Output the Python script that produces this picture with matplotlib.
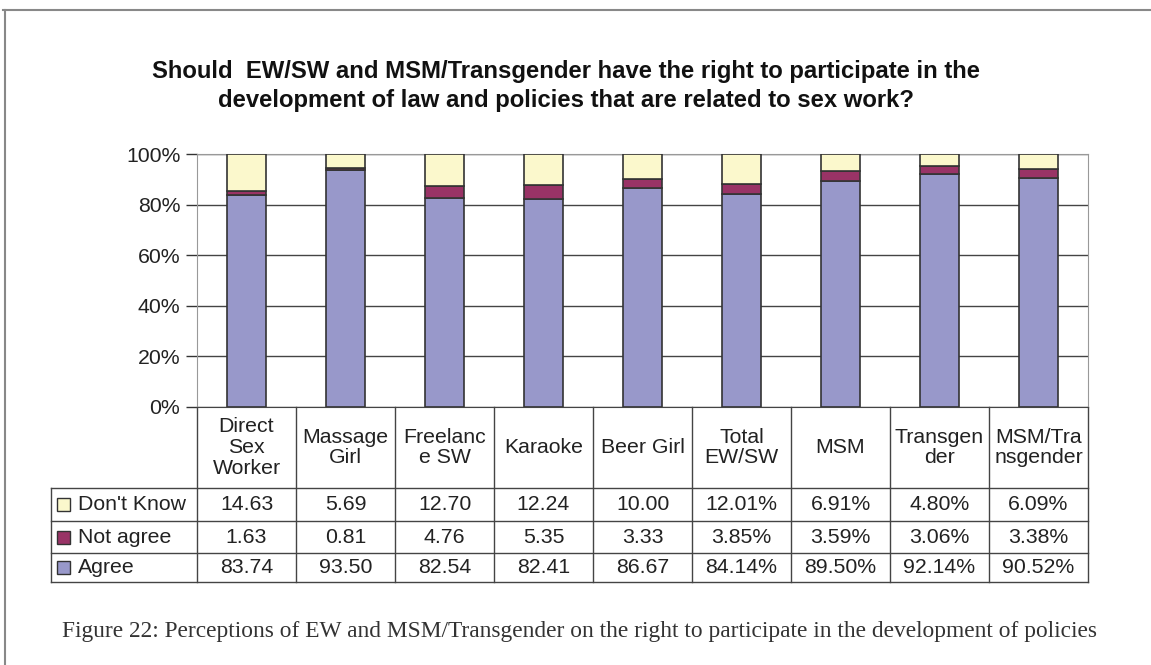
import matplotlib
matplotlib.use('Agg')
import matplotlib.pyplot as plt
from matplotlib.patches import Rectangle
from matplotlib.lines import Line2D
import numpy as np

# data
groups = ['Direct\nSex\nWorker', 'Massage\nGirl', 'Freelanc\ne SW', 'Karaoke', 'Beer Girl',
          'Total\nEW/SW', 'MSM', 'Transgen\nder', 'MSM/Tra\nnsgender']
agree = [83.74, 93.50, 82.54, 82.41, 86.67, 84.14, 89.50, 92.14, 90.52]
not_agree = [1.63, 0.81, 4.76, 5.35, 3.33, 3.85, 3.59, 3.06, 3.38]
dont_know = [14.63, 5.69, 12.70, 12.24, 10.00, 12.01, 6.91, 4.80, 6.09]
pct_sign = [False, False, False, False, False, True, True, True, True]

series_names = ["Don't Know", 'Not agree', 'Agree']
series_vals = [dont_know, not_agree, agree]
series_cols = ['#FBF8CC', '#993366', '#9898CA']

title = ('Should  EW/SW and MSM/Transgender have the right to participate in the\n'
         'development of law and policies that are related to sex work?')
caption = ('Figure 22: Perceptions of EW and MSM/Transgender on the right to participate '
           'in the development of policies')

plt.rcParams['font.family'] = ['Liberation Sans', 'DejaVu Sans']

W, H = 1151, 665
fs = 15.3
tc = '#222222'
fig = plt.figure(figsize=(W / 100, H / 100), dpi=100)
ax = fig.add_axes([197 / W, (H - 407) / H, 891 / W, 253 / H])

x = np.arange(len(groups))
edge = '#333333'
bw = 0.39
ax.bar(x, agree, bw, color=series_cols[2], edgecolor=edge, lw=1.2, zorder=3)
ax.bar(x, not_agree, bw, bottom=agree, color=series_cols[1], edgecolor=edge, lw=1.2, zorder=3)
bot = np.array(agree) + np.array(not_agree)
ax.bar(x, dont_know, bw, bottom=bot, color=series_cols[0], edgecolor=edge, lw=1.2, zorder=3)

ax.set_xlim(-0.5, len(groups) - 0.5)
ax.set_ylim(0, 100)
ax.set_yticks([0, 20, 40, 60, 80, 100])
ax.set_yticklabels(['0%', '20%', '40%', '60%', '80%', '100%'], fontsize=fs, color=tc)
ax.tick_params(axis='y', length=8, width=1, color='#333333', pad=4)
ax.set_xticks([])
ax.yaxis.grid(True, color='#444444', lw=1, zorder=0)
for s in ['top', 'right', 'left']:
    ax.spines[s].set_color('#999999')
ax.spines['bottom'].set_color('#444444')

# data table under the plot
tr = ax.get_xaxis_transform()
lc = '#444444'
tab_left = -0.5 - 146 / 99
y_head = -0.32
row_lines = [-0.32, -0.451, -0.577, -0.692]
xe = len(groups) - 0.5

for i in range(len(groups) + 1):
    ax.add_line(Line2D([i - 0.5, i - 0.5], [0, row_lines[-1]], transform=tr, color=lc, lw=1, clip_on=False))
ax.add_line(Line2D([tab_left, tab_left], [y_head, row_lines[-1]], transform=tr, color=lc, lw=1, clip_on=False))
for yl in row_lines:
    ax.add_line(Line2D([tab_left, xe], [yl, yl], transform=tr, color=lc, lw=1, clip_on=False))

for i, g in enumerate(groups):
    ax.text(i, y_head / 2, g, transform=tr, ha='center', va='center', fontsize=fs,
            color=tc, linespacing=1.12)

for r in range(3):
    yc = (row_lines[r] + row_lines[r + 1]) / 2
    hsq = 13 / 253
    ax.add_patch(Rectangle((tab_left + 6 / 99, yc - hsq / 2), 13 / 99, hsq, transform=tr,
                           facecolor=series_cols[r], edgecolor='#333333', lw=1, clip_on=False))
    ax.text(tab_left + 27 / 99, yc, series_names[r], transform=tr, ha='left', va='center',
            fontsize=fs, color=tc)
    for i, v in enumerate(series_vals[r]):
        s = '%.2f' % v + ('%' if pct_sign[i] else '')
        ax.text(i, yc, s, transform=tr, ha='center', va='center', fontsize=fs, color=tc)

fig.text(566 / W, 1 - 86 / H, title, ha='center', va='center', fontsize=17.2,
         fontweight='bold', linespacing=1.35, color='#111111')
fig.text(579 / W, 1 - 631 / H, caption, ha='center', va='center', fontsize=16.8,
         family=['Liberation Serif', 'DejaVu Serif'], color='#333333')

# outer frame
fig.add_artist(Line2D([3 / W, 1], [1 - 10 / H, 1 - 10 / H], color='#888888', lw=1.5))
fig.add_artist(Line2D([5 / W, 5 / W], [1 - 10 / H, 0], color='#888888', lw=1.5))

fig.savefig('out.png', dpi=100)
